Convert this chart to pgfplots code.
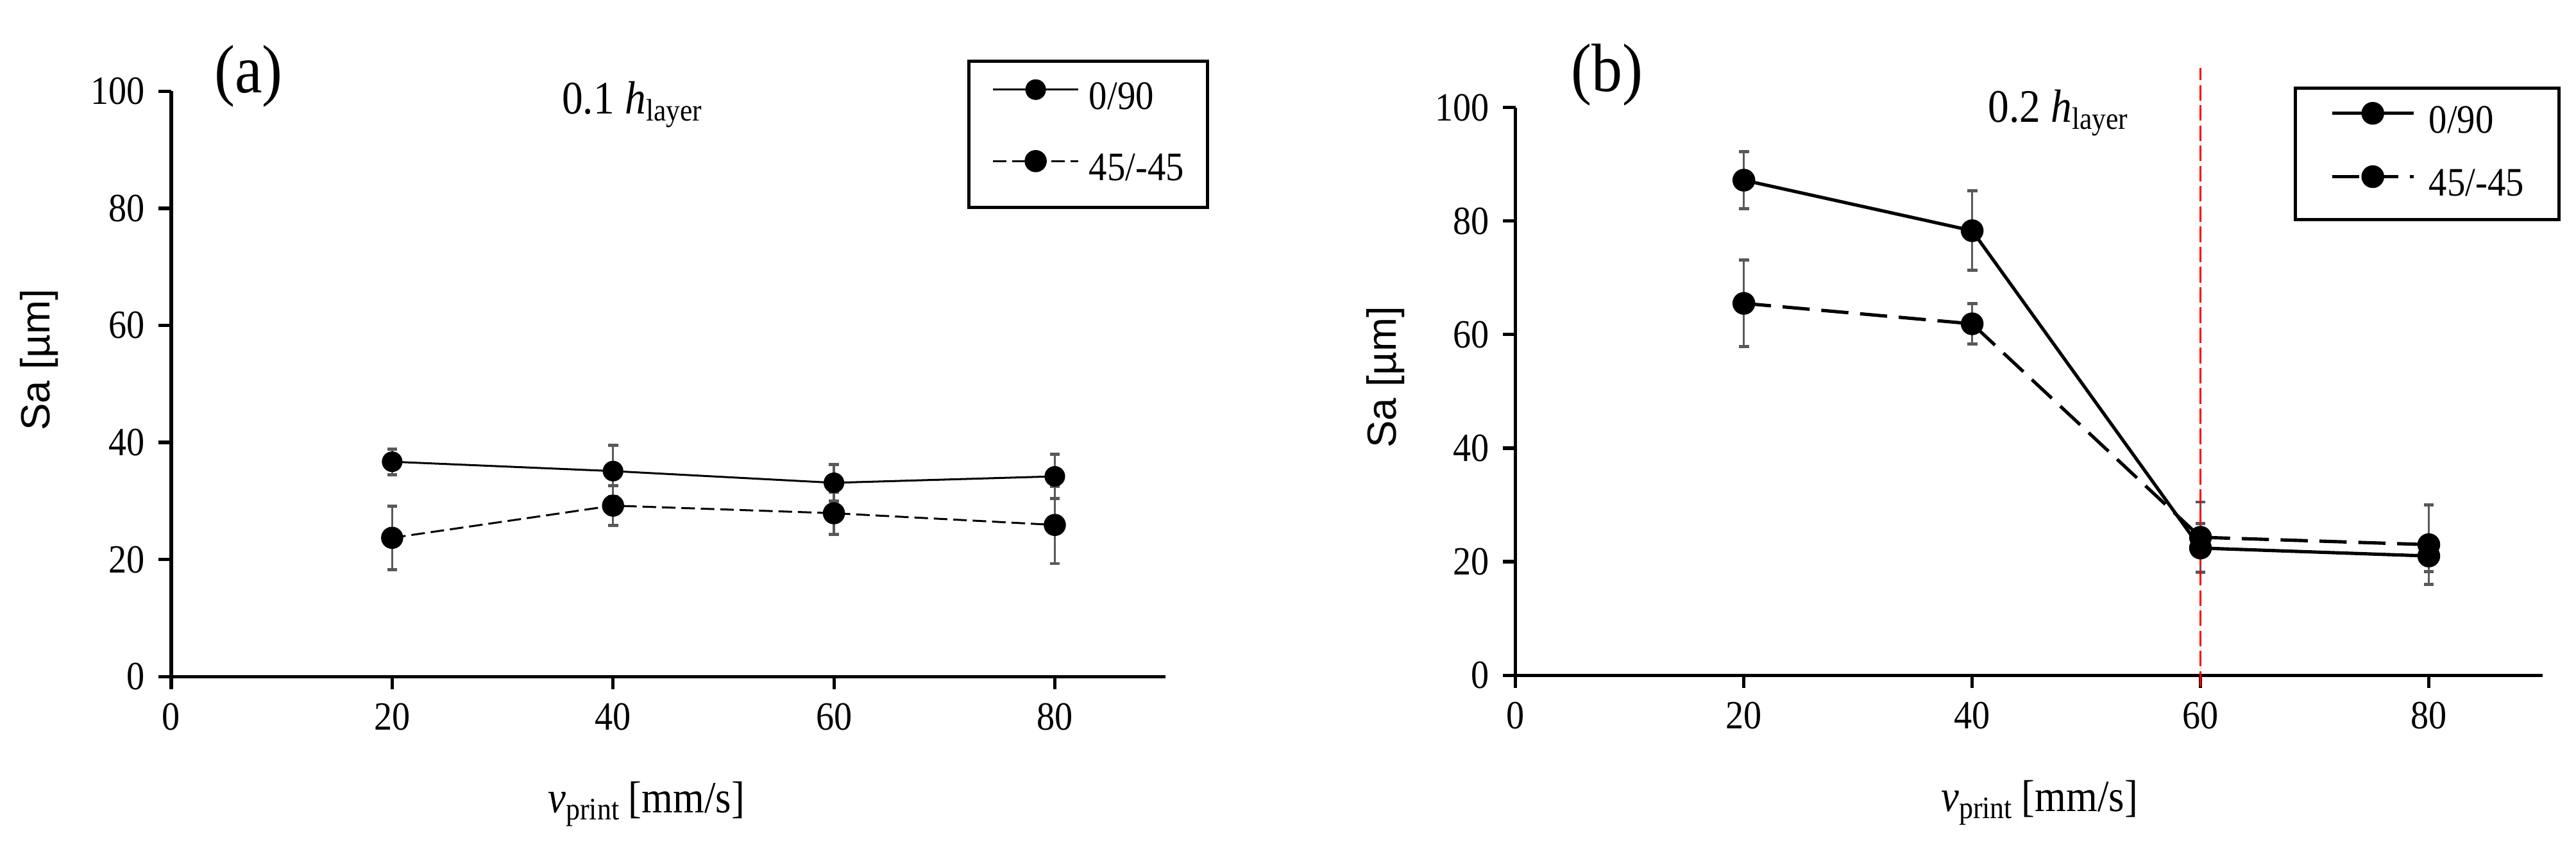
\documentclass[border=0pt]{standalone}
\usepackage{fontspec}
\setmainfont{Liberation Serif}[FakeStretch=0.9]
\newfontfamily\ylabfont{Liberation Sans}
\usepackage{pgfplots}
\pgfplotsset{compat=1.18}
\definecolor{errgray}{RGB}{89,89,89}

\pgfplotsset{
  sapanel/.style={
    scale only axis, clip=false,
    xmin=0, xmax=90, ymin=0, ymax=100,
    axis x line*=bottom, axis y line*=left,
    axis line style={line width=0.85pt, -},
    xtick={0,20,40,60,80}, ytick={0,20,40,60,80,100},
    tick align=outside, major tick length=3.3pt,
    tick style={line width=0.85pt, black},
    /pgf/number format/assume math mode=true,
    tick label style={font=\fontsize{10.3}{12}\selectfont},
    legend cell align=left,
    ylabel={\ylabfont Sa [µm]},
    ylabel style={anchor=center, font=\fontsize{10.5}{12}\selectfont},
    xlabel={\textit{v}\textsubscript{print}\,[mm/s]},
    xlabel style={anchor=center, font=\fontsize{11.5}{13}\selectfont},
  },
  errs/.style={
    error bars/.cd, y dir=both, y explicit,
    error bar style={errgray, line width=0.55pt, solid},
    error mark options={errgray, line width=0.8pt, mark size=1.3pt, solid, rotate=90},
  },
}

\begin{document}
\begin{tikzpicture}
% (a) 0.1 h_layer
\begin{axis}[sapanel,
  at={(0pt,0pt)}, anchor=south west,
  width=255.7pt, height=150.6pt,
  ylabel style={at={([xshift=-34pt]axis description cs:0,0.541)}},
  xlabel style={at={([yshift=-32.8pt]axis description cs:0.478,0)}},
  legend style={at={(1.044,1.054)}, anchor=north east, draw=black, line width=0.8pt,
    inner xsep=6pt, inner ysep=4.9pt, row sep=8.8pt, column sep=2.5pt,
    font=\fontsize{10.4}{12}\selectfont,
    nodes={inner sep=0pt, text height=7pt, text depth=2pt}},
  legend image code/.code={\draw[mark repeat=2,mark phase=2,#1]
    plot coordinates {(0pt,2.5pt) (11pt,2.5pt) (22pt,2.5pt)};},
]
\addplot[black, line width=0.5pt, mark=*, mark size=2.4pt, errs]
  coordinates {(20,36.7) +- (0,2.2) (40,35.1) +- (0,4.4) (60,33.1) +- (0,3.1) (80,34.2) +- (0,3.8)};
\addlegendentry{0/90}
\addplot[black, line width=0.5pt, dash pattern=on 3.5pt off 1.5pt, mark=*, mark size=2.6pt, mark options={solid}, errs]
  coordinates {(20,23.7) +- (0,5.4) (40,29.2) +- (0,3.4) (60,27.9) +- (0,3.6) (80,25.9) +- (0,6.6)};
\addlegendentry{45/-45}
\node[font=\fontsize{17.6}{20}\selectfont] at (axis cs:7.0,102.6) {(a)};
\node[font=\fontsize{12}{14}\selectfont] at (axis cs:41.8,97.7) {0.1 \textit{h}\textsubscript{layer}};
\end{axis}

% (b) 0.2 h_layer
\begin{axis}[sapanel,
  at={(345.8pt,0.33pt)}, anchor=south west,
  width=264.3pt, height=146.1pt,
  ylabel style={at={([xshift=-33.5pt]axis description cs:0,0.525)}},
  xlabel style={at={([yshift=-32.8pt]axis description cs:0.51,0)}},
  legend style={at={(1.017,1.037)}, anchor=north east, draw=black, line width=0.8pt,
    inner xsep=9pt, inner ysep=4pt, row sep=6.8pt, column sep=3.5pt,
    font=\fontsize{10.4}{12}\selectfont,
    nodes={inner sep=0pt, text height=7pt, text depth=2pt}},
  legend image code/.code={\draw[mark repeat=2,mark phase=2,#1]
    plot coordinates {(0pt,2.5pt) (10.5pt,2.5pt) (21pt,2.5pt)};},
]
\addplot[black, line width=0.85pt, mark=*, mark size=2.5pt, errs]
  coordinates {(20,87.2) +- (0,5.0) (40,78.3) +- (0,7.0) (60,22.4) +- (0,4.3) (80,21.0) +- (0,2.7)};
\addlegendentry{0/90}
\addplot[black, line width=0.85pt, dash pattern=on 7pt off 3pt, mark=*, mark size=2.5pt, mark options={solid}, errs]
  coordinates {(20,65.5) +- (0,7.6) (40,61.9) +- (0,3.6) (60,24.3) +- (0,6.2) (80,23.0) +- (0,7.0)};
\addlegendentry{45/-45}
\addplot[red, line width=0.4pt, dash pattern=on 4pt off 1.2pt, forget plot]
  coordinates {(60,-2) (60,107)};
\node[font=\fontsize{17.6}{20}\selectfont] at (axis cs:8.0,105.7) {(b)};
\node[font=\fontsize{12}{14}\selectfont] at (axis cs:47.6,99.1) {0.2 \textit{h}\textsubscript{layer}};
\end{axis}

\pgfresetboundingbox
\useasboundingbox (-44.06pt,-47.85pt) rectangle (618.6pt,174.1pt);
\end{tikzpicture}
\end{document}
